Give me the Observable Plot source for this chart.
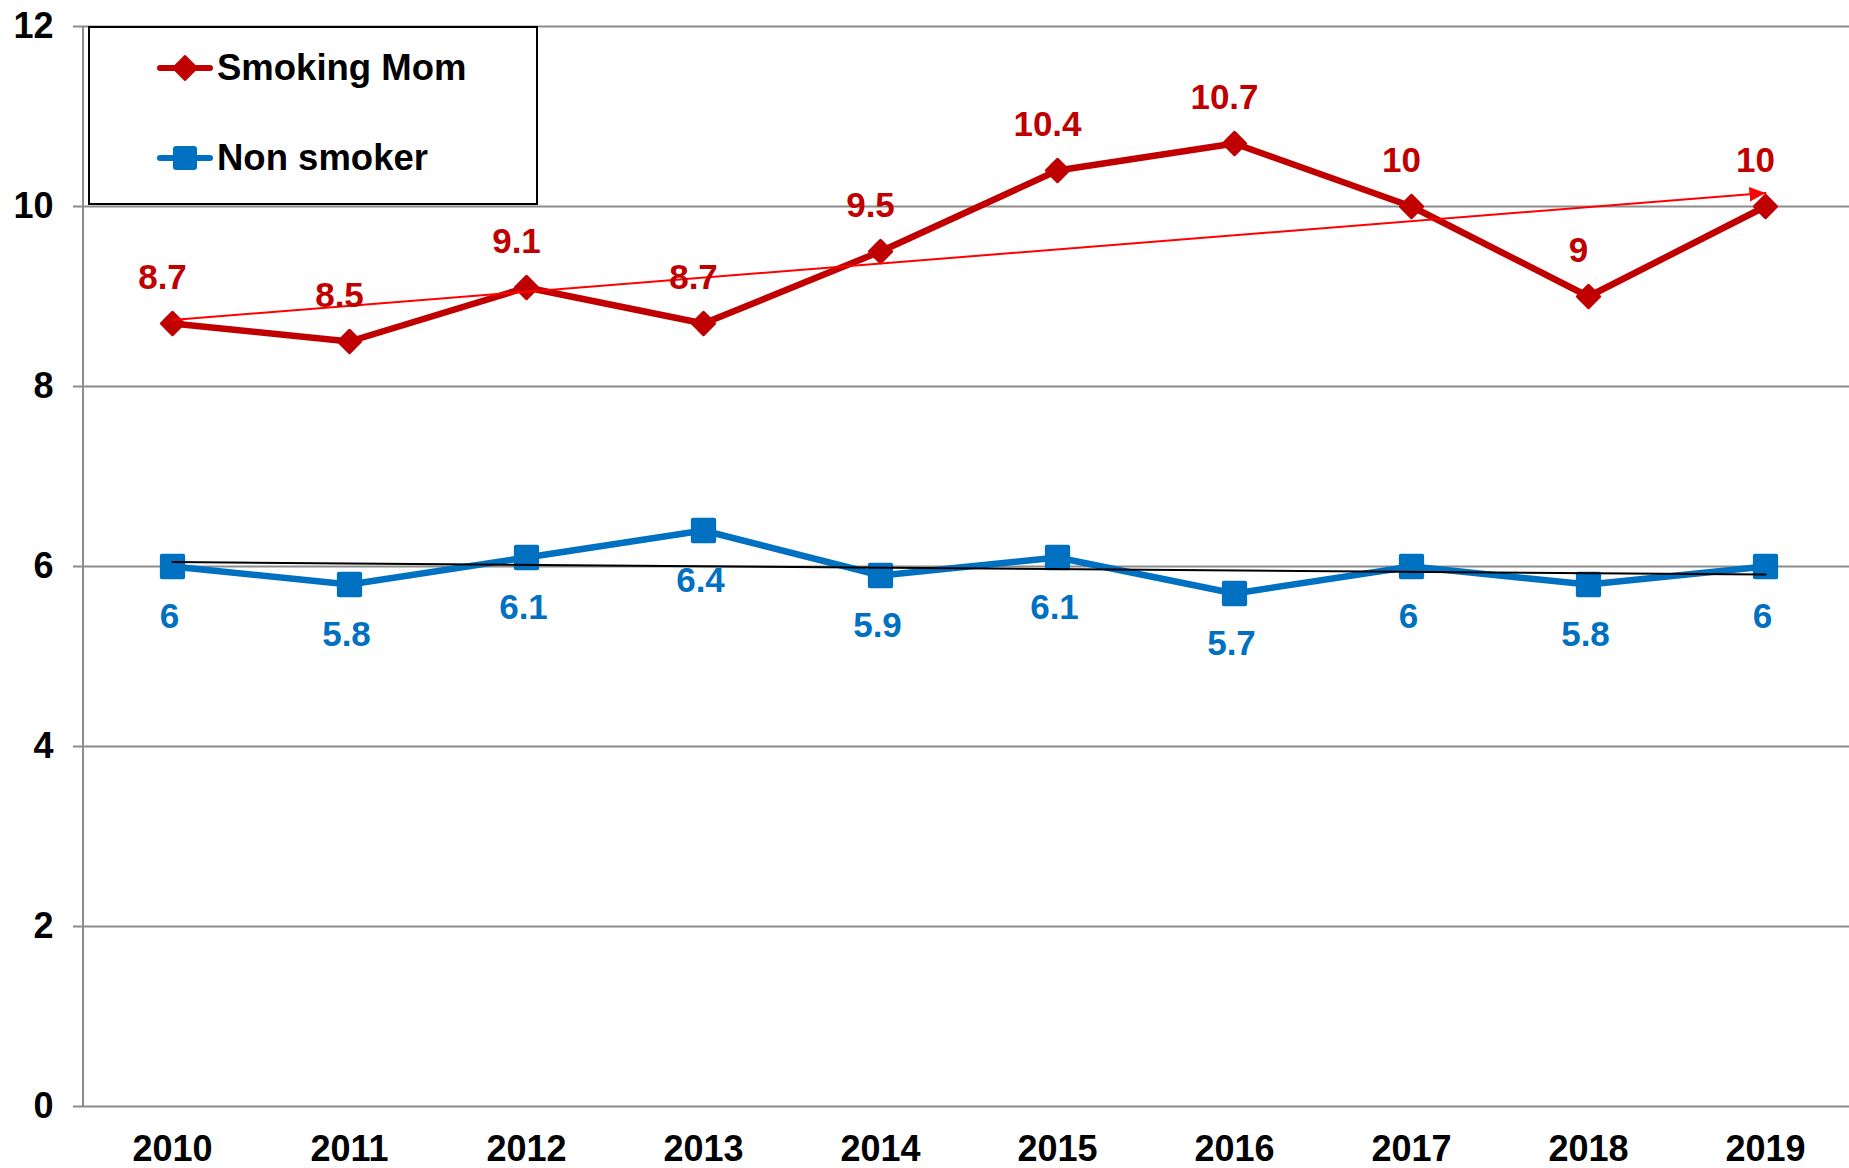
<!DOCTYPE html>
<html><head><meta charset="utf-8">
<script src="https://cdn.jsdelivr.net/npm/d3@7"></script>
<script src="https://cdn.jsdelivr.net/npm/@observablehq/plot@0.6"></script>
<style>
body{margin:0;background:#fff;font-family:"Liberation Sans",Arial,sans-serif;}
#wrap{position:relative;width:1849px;height:1168px;}
#legend{position:absolute;left:88px;top:26px;width:446px;height:175px;border:2px solid #000;background:#fff;}
.item{position:absolute;left:67px;height:30px;display:flex;align-items:center;font-weight:bold;font-size:36.5px;color:#000;white-space:nowrap;}
.item svg{margin-right:4px;}
</style></head><body><div id="wrap"></div>
<script>
const years = [2010, 2011, 2012, 2013, 2014, 2015, 2016, 2017, 2018, 2019];
const smokingMom = [8.7, 8.5, 9.1, 8.7, 9.5, 10.4, 10.7, 10, 9, 10];
const nonSmoker = [6, 5.8, 6.1, 6.4, 5.9, 6.1, 5.7, 6, 5.8, 6];
const yTicks = [0, 2, 4, 6, 8, 10, 12];
const trendYears = [2010, 2019];
const smokingTrend = [8.74, 10.15];
const nonSmokerTrend = [6.05, 5.91];
const seriesNames = ["Smoking Mom", "Non smoker"];
const seriesColors = ["#C00000", "#0070C0"];

const rows = years.map((year, i) => ({year, smoking: smokingMom[i], non: nonSmoker[i]}));
const trendRows = trendYears.map((year, i) => ({year, smoking: smokingTrend[i], non: nonSmokerTrend[i]}));
const font = "'Liberation Sans', Arial, sans-serif";
const marginLeft = 83;

const chart = Plot.plot({
  width: 1849, height: 1168,
  marginLeft, marginRight: 0, marginTop: 26, marginBottom: 62,
  style: {fontFamily: font, background: "white", overflow: "visible"},
  x: {type: "point", domain: years, padding: 0, range: [172, 1765]},
  y: {domain: [0, 12]},
  marks: [
    Plot.gridY(yTicks, {stroke: "#8c8c8c", strokeOpacity: 1, strokeWidth: 2, insetLeft: -10}),
    Plot.axisY(yTicks, {tickSize: 0, tickPadding: 30, fontSize: 36, fontWeight: "bold", label: null, tickFormat: d => String(d)}),
    Plot.axisX({tickSize: 0, tickPadding: 29, fontSize: 36, fontWeight: "bold", label: null, tickFormat: d => String(d)}),
    Plot.line(rows, {x: "year", y: "smoking", stroke: seriesColors[0], strokeWidth: 6.5, strokeLinejoin: "round"}),
    Plot.dot(rows, {x: "year", y: "smoking", symbol: "diamond2", r: 10, fill: seriesColors[0], stroke: seriesColors[0], strokeWidth: 3, strokeLinejoin: "round"}),
    Plot.line(rows, {x: "year", y: "non", stroke: seriesColors[1], strokeWidth: 6.5, strokeLinejoin: "round"}),
    Plot.dot(rows, {x: "year", y: "non", symbol: "square", r: 12, fill: seriesColors[1], stroke: seriesColors[1], strokeWidth: 4, strokeLinejoin: "round"}),
    Plot.line(trendRows, {x: "year", y: "non", stroke: "#000", strokeWidth: 2}),
    Plot.line(trendRows, {x: "year", y: "smoking", stroke: "#ff0000", strokeWidth: 2, markerEnd: "arrow"}),
    Plot.text(rows, {x: "year", y: "smoking", text: d => String(d.smoking), dx: -10, dy: -46, fill: seriesColors[0], fontSize: 35, fontWeight: "bold"}),
    Plot.text(rows, {x: "year", y: "non", text: d => String(d.non), dx: -3, dy: 50, fill: seriesColors[1], fontSize: 35, fontWeight: "bold"})
  ]
});

// filled arrowhead on the red trend line
d3.select(chart).selectAll("marker").each(function() {
  const m = d3.select(this);
  m.attr("viewBox", "-10 -5 10 10").attr("markerWidth", 16).attr("markerHeight", 16)
   .attr("refX", 0).attr("refY", 0).attr("markerUnits", "userSpaceOnUse");
  m.selectAll("*").remove();
  m.append("path").attr("d", "M-10,-4.5L0,0L-10,4.5Z").attr("fill", "#ff0000").attr("stroke", "none");
});

// left axis line
const ys = chart.scale("y");
d3.select(chart).insert("line", "g")
  .attr("x1", marginLeft).attr("x2", marginLeft)
  .attr("y1", ys.apply(12)).attr("y2", ys.apply(0))
  .attr("stroke", "#8c8c8c").attr("stroke-width", 2);

const wrap = document.getElementById("wrap");
wrap.appendChild(chart);

// legend
const legend = document.createElement("div");
legend.id = "legend";
const symbols = [
  '<polygon points="28,3 40,15 28,27 16,15" fill="#C00000" stroke="#C00000" stroke-width="2" stroke-linejoin="round"/>',
  '<rect x="16" y="3" width="24" height="24" rx="3" fill="#0070C0"/>'
];
const tops = [25, 115];
seriesNames.forEach((name, i) => {
  const item = document.createElement("div");
  item.className = "item";
  item.style.top = tops[i] + "px";
  item.innerHTML = `<svg width="56" height="30"><line x1="3" x2="53" y1="15" y2="15" stroke="${seriesColors[i]}" stroke-width="6" stroke-linecap="round"/>${symbols[i]}</svg><span>${name}</span>`;
  legend.appendChild(item);
});
wrap.appendChild(legend);
</script></body></html>
